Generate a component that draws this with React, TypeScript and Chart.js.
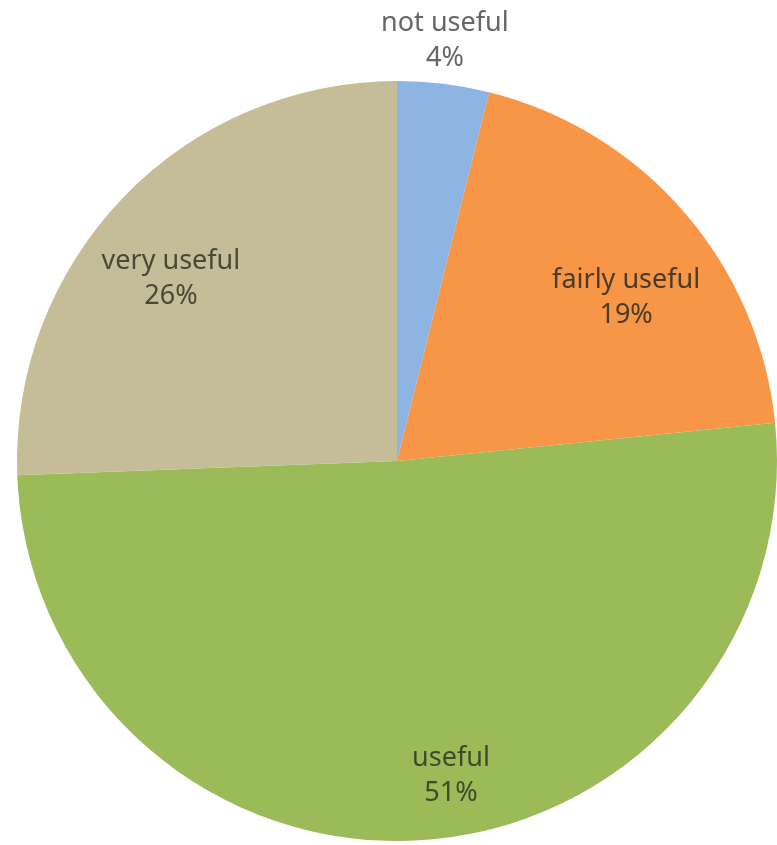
import React, { useEffect, useRef } from "react";
import { Chart, registerables } from "chart.js";

Chart.register(...registerables);

const categories = ["not useful", "fairly useful", "useful", "very useful"];
const values = [3.9, 19.5, 51, 25.6];
const percentLabels = ["4%", "19%", "51%", "26%"];
const colors = ["#8EB4E3", "#F79646", "#9BBB59", "#C4BD97"];
// label anchor offsets relative to pie center, as fraction of radius
const labelOffsets: [number, number][] = [
  [0.126, -1.107],
  [0.603, -0.43],
  [0.142, 0.826],
  [-0.595, -0.48],
];
const labelColors = ["#666666", "#4a3a2a", "#3f4a2a", "#4a4838"];

const labelPlugin = {
  id: "sliceLabels",
  afterDatasetsDraw(chart: any) {
    const meta = chart.getDatasetMeta(0);
    const arc = meta.data[0];
    if (!arc) return;
    const { x: cx, y: cy, outerRadius: r } = arc.getProps(["x", "y", "outerRadius"], true);
    const ctx = chart.ctx;
    ctx.save();
    ctx.font = "27px 'Noto Sans', sans-serif";
    ctx.textAlign = "center";
    ctx.textBaseline = "middle";
    categories.forEach((c, i) => {
      const [fx, fy] = labelOffsets[i];
      const x = cx + fx * r;
      const y = cy + fy * r;
      ctx.fillStyle = labelColors[i];
      ctx.fillText(c, x, y - 17);
      ctx.fillText(percentLabels[i], x, y + 18);
    });
    ctx.restore();
  },
};

export default function App() {
  const ref = useRef<HTMLCanvasElement>(null);
  useEffect(() => {
    if (!ref.current) return;
    const chart = new Chart(ref.current, {
      type: "pie",
      data: {
        labels: categories,
        datasets: [
          {
            data: values,
            backgroundColor: colors,
            borderWidth: 0,
          },
        ],
      },
      options: {
        animation: false,
        responsive: false,
        maintainAspectRatio: false,
        layout: { padding: { left: 17, right: 0, top: 81, bottom: 4 } },
        plugins: {
          legend: { display: false },
          tooltip: { enabled: false },
        },
      },
      plugins: [labelPlugin],
    });
    return () => chart.destroy();
  }, []);
  return (
    <div style={{ position: "absolute", left: 0, top: 0, width: 777, height: 845, background: "#fff" }}>
      <canvas ref={ref} width={777} height={845} style={{ width: 777, height: 845 }} />
    </div>
  );
}
